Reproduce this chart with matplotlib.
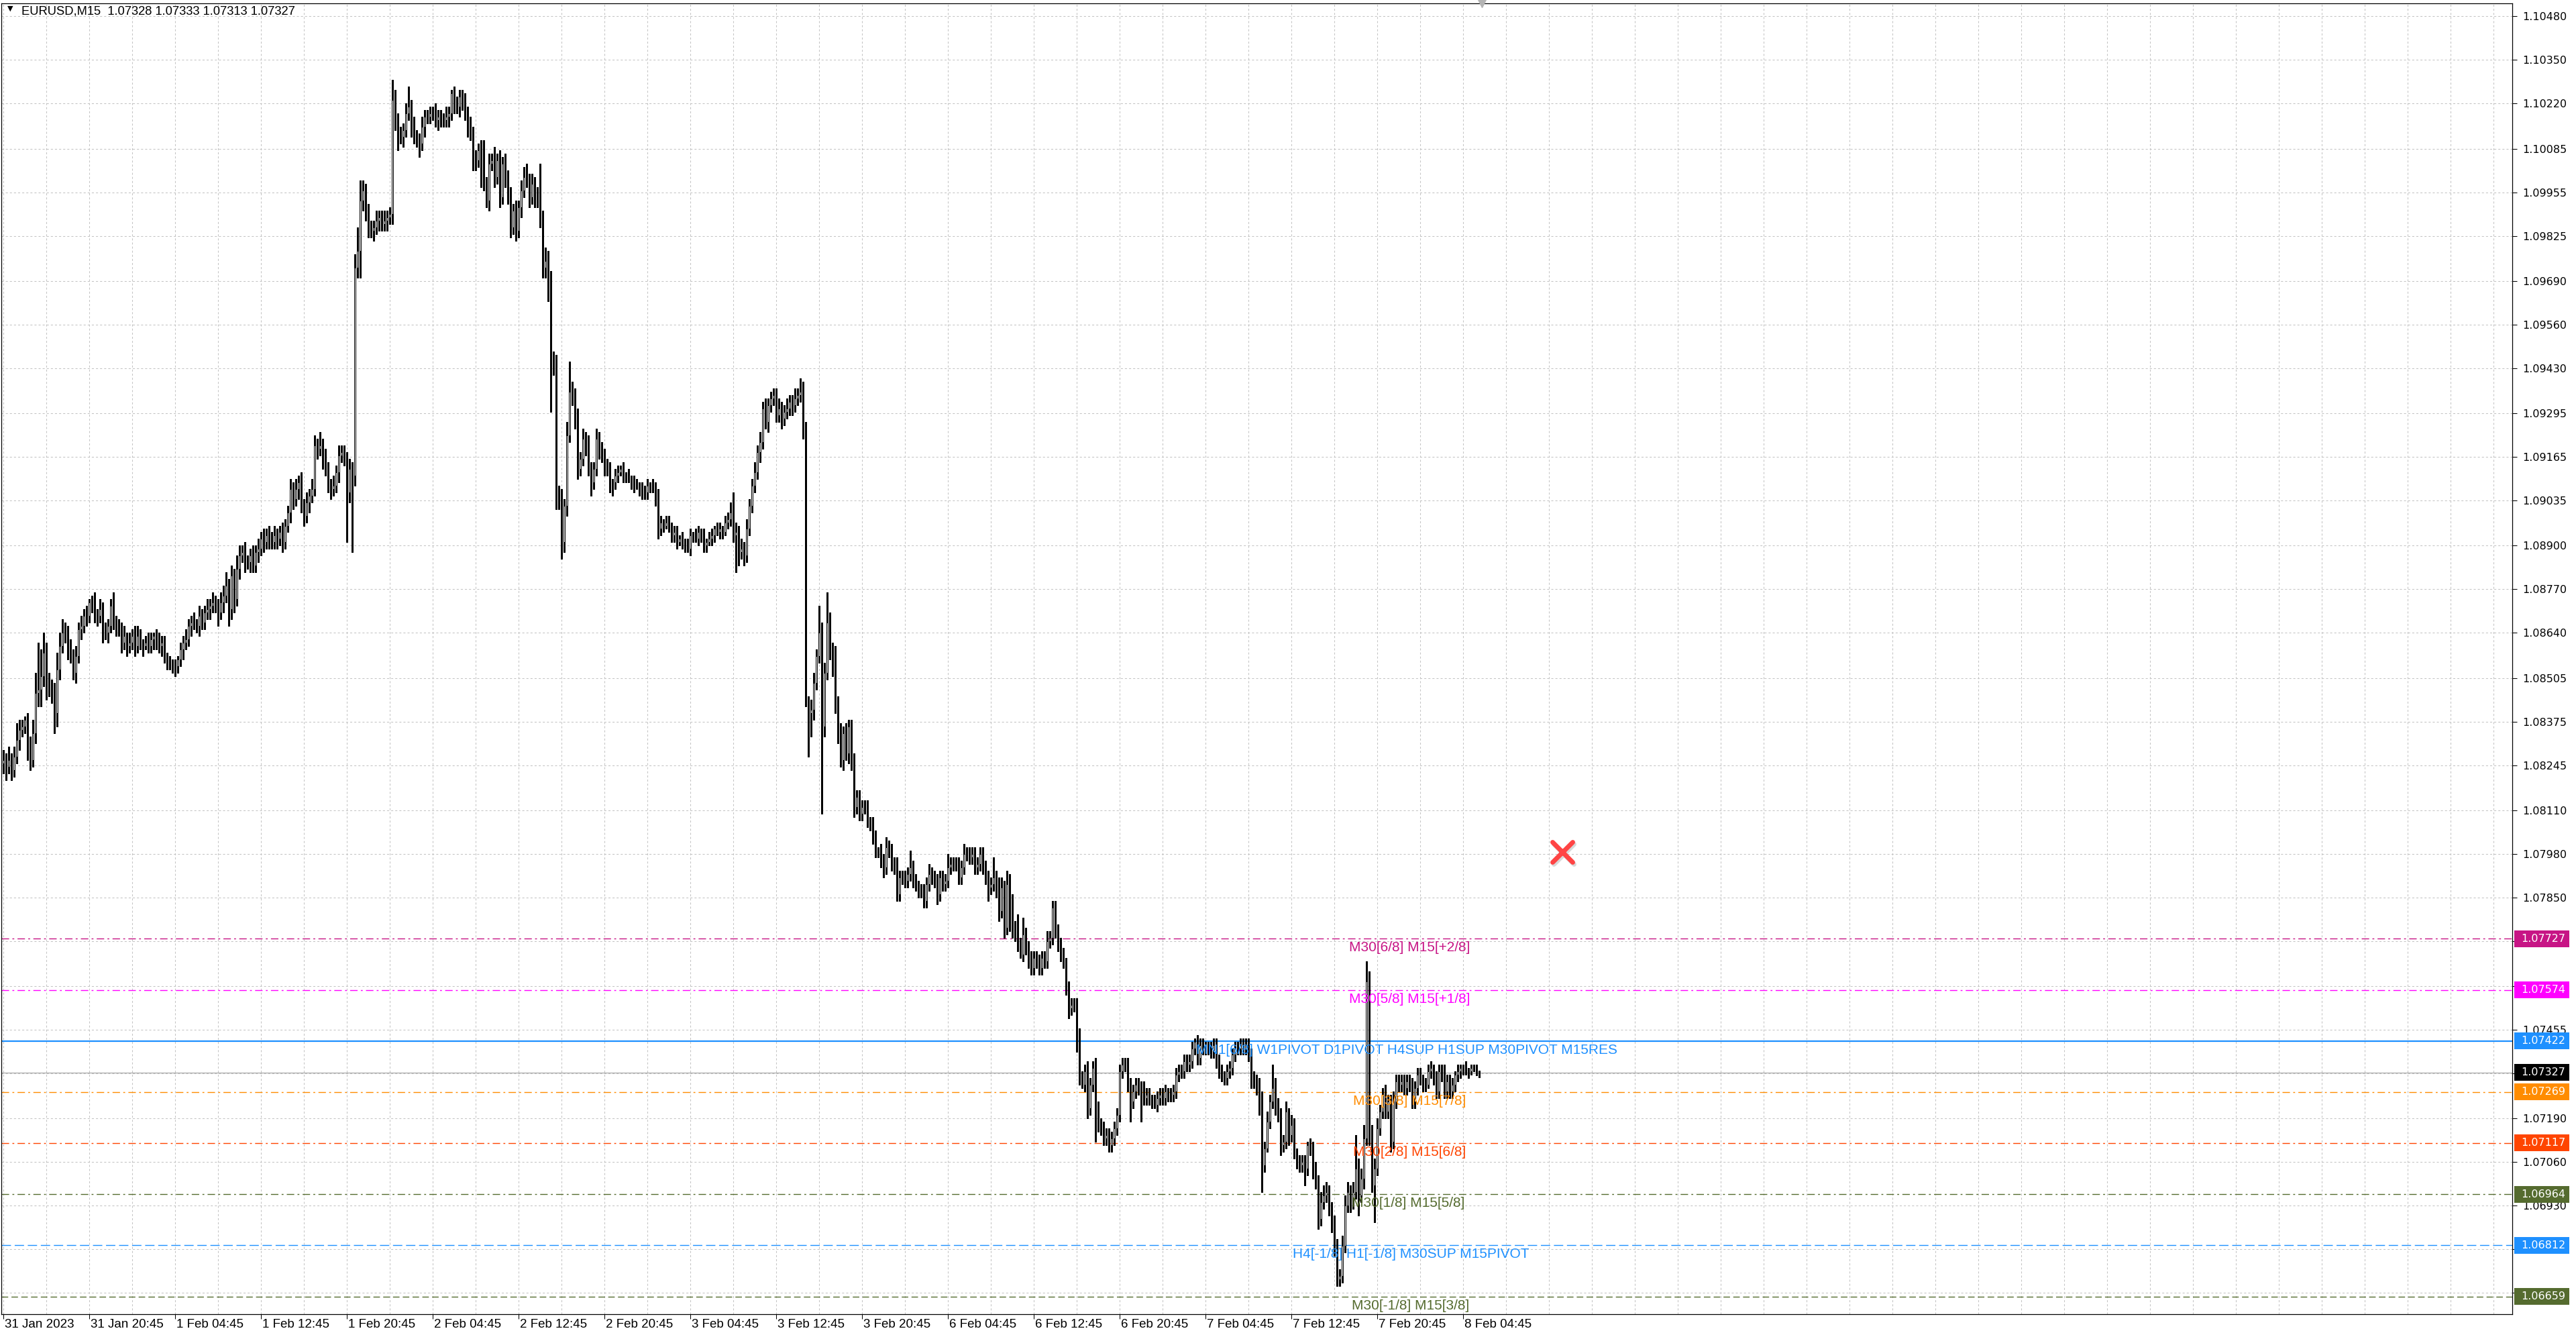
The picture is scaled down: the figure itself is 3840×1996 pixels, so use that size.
import matplotlib
matplotlib.use("Agg")
import matplotlib.pyplot as plt
import matplotlib.transforms as mtransforms
import numpy as np
from matplotlib.markers import MarkerStyle
from matplotlib.patches import Rectangle

plt.rcParams["font.family"] = ["DejaVu Sans"]
plt.rcParams["lines.scale_dashes"] = False

# ---- data (EURUSD M15, prices kept as pips above 1.06000) ----
symbol = "EURUSD,M15"
last_bar = ["1.07328", "1.07333", "1.07313", "1.07327"]
base_price = 1.06
first_open = 225

closes = (
    [226, 224, 226, 223, 227, 232, 235, 236, 238, 230, 226, 234, 246, 247, 251, 258]
    + [248, 248, 246, 240, 253, 260, 264, 264, 259, 257, 252, 257, 265, 266, 269, 269]
    + [273, 273, 269, 269, 271, 264, 264, 266, 272, 267, 266, 265, 261, 263, 260, 261]
    + [263, 260, 263, 261, 260, 261, 260, 262, 263, 261, 260, 261, 257, 255, 255, 254]
    + [254, 256, 259, 261, 262, 266, 267, 267, 266, 269, 267, 270, 271, 272, 273, 272]
    + [270, 273, 275, 278, 271, 281, 274, 283, 287, 288, 285, 285, 287, 284, 288, 289]
    + [292, 291, 293, 292, 291, 293, 292, 294, 291, 296, 300, 307, 304, 307, 309, 302]
    + [299, 303, 305, 307, 320, 319, 320, 316, 313, 308, 307, 308, 312, 317, 318, 316]
    + [306, 313, 311, 373, 378, 393, 396, 389, 385, 384, 385, 387, 388, 386, 387, 388]
    + [389, 423, 417, 412, 412, 414, 419, 421, 415, 412, 411, 410, 415, 418, 418, 419]
    + [419, 417, 418, 417, 417, 418, 419, 425, 421, 421, 424, 422, 419, 415, 413, 405]
    + [405, 408, 404, 398, 393, 404, 405, 400, 405, 394, 404, 400, 394, 385, 390, 384]
    + [391, 396, 400, 399, 394, 398, 394, 393, 387, 373, 375, 370, 345, 345, 305, 304]
    + [291, 302, 323, 336, 335, 328, 313, 316, 322, 320, 313, 309, 313, 322, 319, 317]
    + [313, 313, 309, 309, 311, 312, 313, 311, 311, 310, 309, 308, 308, 307, 306, 306]
    + [308, 308, 307, 304, 295, 297, 296, 297, 296, 293, 294, 291, 292, 291, 290, 289]
    + [293, 293, 292, 294, 293, 290, 291, 292, 293, 295, 294, 295, 294, 297, 298, 300]
    + [293, 294, 288, 289, 287, 295, 302, 308, 312, 318, 321, 331, 327, 332, 334, 335]
    + [329, 331, 328, 330, 331, 333, 332, 334, 335, 336, 325, 243, 240, 241, 249, 257]
    + [264, 236, 252, 267, 259, 257, 243, 234, 226, 234, 228, 236, 225, 212, 215, 210]
    + [212, 212, 208, 207, 203, 199, 199, 196, 194, 200, 199, 195, 194, 186, 191, 191]
    + [190, 192, 194, 190, 189, 187, 187, 184, 189, 192, 191, 190, 186, 191, 189, 190]
    + [194, 195, 195, 195, 191, 194, 198, 198, 197, 198, 194, 195, 198, 194, 191, 188]
    + [189, 191, 188, 181, 188, 176, 189, 178, 175, 174, 171, 168, 174, 170, 167, 164]
    + [167, 166, 164, 167, 166, 172, 173, 182, 175, 171, 168, 166, 158, 152, 153, 153]
    + [144, 131, 129, 133, 122, 129, 134, 122, 117, 116, 113, 114, 111, 113, 116, 120]
    + [133, 135, 135, 129, 124, 127, 129, 128, 128, 125, 126, 125, 124, 123, 125, 126]
    + [125, 127, 126, 126, 127, 132, 133, 133, 136, 135, 136, 140, 142, 137, 141, 140]
    + [140, 140, 139, 141, 136, 133, 132, 131, 133, 134, 138, 140, 140, 141, 140, 141]
    + [138, 131, 130, 129, 124, 105, 110, 118, 124, 128, 123, 120, 111, 112, 121, 114]
    + [117, 108, 106, 105, 106, 104, 111, 110, 104, 100, 89, 94, 96, 97, 92, 88]
    + [81, 71, 72, 81, 93, 97, 94, 97, 104, 96, 101, 113, 160, 113, 99, 104]
    + [116, 121, 126, 121, 124, 112, 124, 130, 129, 130, 128, 130, 129, 124, 128, 132]
    + [131, 129, 129, 133, 134, 131, 127, 133, 132, 127, 130, 127, 129, 132, 133, 134]
    + [134, 133, 133, 134, 134, 132.8, 132.7]
)

# upper / lower shadow length (pips beyond the body)
upper_wick = (
    [3, 2, 4, 2, 3, 5, 3, 2, 1, 2, 3, 4, 6, 14, 8, 6]
    + [3, 4, 2, 3, 5, 4, 4, 3, 2, 3, 2, 3, 2, 3, 2, 3]
    + [1, 2, 3, 2, 3, 2, 3, 2, 2, 4, 2, 2, 2, 3, 1, 3]
    + [2, 3, 3, 2, 1, 2, 3, 2, 1, 2, 3, 2, 2, 1, 2, 1]
    + [2, 1, 2, 2, 3, 2, 2, 3, 1, 3, 2, 2, 3, 2, 3, 2]
    + [2, 3, 3, 4, 2, 3, 2, 4, 3, 2, 3, 2, 2, 3, 2, 3]
    + [2, 3, 2, 3, 2, 3, 2, 2, 3, 2, 2, 3, 2, 3, 2, 3]
    + [2, 3, 2, 3, 3, 2, 4, 2, 3, 2, 2, 3, 2, 3, 2, 2]
    + [2, 3, 2, 4, 7, 6, 3, 2, 3, 2, 2, 3, 2, 2, 3, 2]
    + [2, 6, 3, 2, 3, 2, 3, 6, 2, 3, 2, 2, 3, 2, 2, 2]
    + [2, 3, 2, 2, 2, 3, 2, 1, 2, 3, 2, 2, 3, 2, 3, 2]
    + [3, 2, 3, 7, 2, 3, 2, 4, 2, 3, 2, 3, 2, 3, 2, 3]
    + [2, 3, 3, 4, 2, 3, 2, 3, 11, 3, 4, 3, 2, 3, 2, 3]
    + [3, 2, 4, 9, 3, 2, 3, 2, 3, 2, 3, 2, 2, 3, 2, 2]
    + [2, 3, 2, 1, 2, 2, 1, 2, 1, 2, 1, 2, 2, 1, 2, 2]
    + [2, 1, 2, 2, 3, 2, 1, 2, 2, 1, 2, 2, 1, 2, 1, 2]
    + [2, 1, 2, 2, 1, 2, 1, 2, 2, 1, 2, 2, 1, 2, 2, 3]
    + [6, 3, 2, 3, 2, 3, 2, 2, 3, 2, 3, 2, 3, 2, 2, 2]
    + [2, 3, 2, 2, 3, 2, 2, 3, 2, 4, 3, 2, 2, 3, 3, 2]
    + [8, 3, 3, 9, 3, 2, 3, 2, 3, 2, 3, 2, 2, 3, 2, 2]
    + [2, 2, 2, 1, 2, 2, 1, 2, 2, 3, 2, 2, 2, 3, 2, 2]
    + [2, 2, 5, 2, 2, 1, 2, 2, 2, 3, 2, 2, 2, 2, 2, 2]
    + [4, 2, 2, 2, 2, 2, 3, 2, 2, 2, 2, 2, 2, 2, 2, 2]
    + [2, 6, 2, 3, 3, 2, 4, 3, 8, 3, 6, 2, 5, 2, 2, 2]
    + [2, 2, 2, 2, 2, 3, 2, 2, 2, 2, 2, 2, 1, 2, 2, 2]
    + [2, 2, 2, 2, 3, 2, 2, 3, 2, 2, 2, 2, 2, 2, 2, 2]
    + [2, 2, 2, 2, 2, 2, 2, 2, 2, 2, 2, 2, 1, 2, 2, 2]
    + [2, 2, 1, 2, 2, 2, 2, 2, 2, 2, 2, 2, 1, 2, 2, 2]
    + [2, 2, 2, 2, 2, 2, 2, 1, 2, 2, 2, 2, 2, 2, 2, 2]
    + [2, 2, 2, 2, 2, 3, 2, 3, 2, 7, 3, 2, 2, 2, 3, 1]
    + [3, 2, 2, 2, 2, 2, 1, 2, 2, 2, 2, 3, 3, 3, 2, 2]
    + [2, 2, 2, 3, 3, 3, 2, 3, 10, 3, 3, 4, 6, 3, 4, 3]
    + [3, 2, 2, 3, 2, 2, 3, 2, 2, 2, 2, 2, 2, 2, 2, 2]
    + [2, 1, 2, 2, 2, 1, 2, 2, 2, 3, 2, 2, 2, 1, 2, 1]
    + [1, 2, 1, 1, 1, 1, 0.5]
)

lower_wick = (
    [3, 4, 2, 3, 2, 2, 3, 2, 2, 4, 3, 2, 3, 4, 5, 3]
    + [4, 3, 3, 6, 4, 3, 2, 3, 3, 2, 2, 3, 2, 3, 2, 3]
    + [2, 3, 2, 3, 2, 3, 2, 3, 2, 2, 3, 2, 3, 2, 3, 2]
    + [2, 3, 2, 2, 3, 1, 2, 2, 3, 2, 2, 3, 2, 2, 2, 2]
    + [3, 2, 2, 3, 2, 2, 3, 2, 2, 3, 2, 2, 2, 3, 2, 2]
    + [4, 2, 3, 2, 5, 3, 4, 2, 3, 2, 3, 2, 3, 2, 2, 3]
    + [2, 3, 2, 3, 2, 2, 3, 2, 3, 2, 2, 3, 3, 2, 3, 2]
    + [3, 2, 3, 2, 2, 3, 2, 3, 2, 2, 3, 2, 2, 3, 2, 2]
    + [15, 3, 23, 3, 3, 8, 3, 2, 3, 2, 3, 2, 3, 2, 2, 3]
    + [2, 3, 3, 4, 2, 3, 2, 2, 3, 2, 2, 4, 2, 3, 2, 2]
    + [2, 2, 3, 2, 2, 2, 3, 2, 2, 2, 3, 2, 2, 3, 2, 3]
    + [3, 2, 7, 2, 2, 3, 2, 3, 2, 3, 2, 3, 2, 3, 2, 3]
    + [2, 3, 2, 2, 3, 2, 3, 2, 2, 3, 3, 7, 15, 4, 4, 3]
    + [5, 3, 3, 2, 3, 3, 3, 2, 2, 3, 2, 4, 2, 2, 3, 2]
    + [2, 2, 3, 4, 2, 2, 1, 2, 2, 1, 2, 2, 1, 2, 2, 2]
    + [2, 2, 1, 2, 3, 2, 2, 1, 2, 2, 2, 2, 1, 2, 2, 1]
    + [2, 2, 1, 2, 2, 2, 2, 1, 2, 2, 1, 2, 2, 1, 2, 2]
    + [2, 11, 4, 2, 3, 2, 2, 2, 2, 2, 3, 2, 2, 3, 2, 2]
    + [2, 2, 3, 2, 2, 2, 3, 2, 2, 2, 3, 1, 13, 7, 3, 2]
    + [2, 26, 3, 2, 3, 6, 3, 3, 2, 3, 2, 3, 2, 3, 2, 2]
    + [2, 2, 2, 2, 2, 2, 2, 2, 3, 2, 2, 2, 2, 2, 2, 2]
    + [2, 2, 2, 2, 2, 2, 2, 2, 2, 2, 2, 2, 3, 2, 2, 2]
    + [2, 2, 2, 2, 2, 2, 2, 2, 2, 2, 2, 2, 2, 2, 2, 4]
    + [2, 2, 3, 3, 2, 3, 2, 3, 2, 2, 2, 1, 2, 2, 3, 2]
    + [2, 2, 2, 2, 2, 2, 2, 2, 2, 2, 2, 2, 2, 3, 2, 2]
    + [5, 2, 1, 2, 3, 2, 2, 10, 2, 2, 2, 2, 2, 2, 2, 2]
    + [2, 2, 2, 2, 6, 2, 2, 2, 10, 2, 2, 2, 2, 1, 2, 2]
    + [2, 2, 2, 2, 2, 2, 2, 2, 2, 2, 2, 2, 2, 2, 2, 2]
    + [2, 2, 2, 2, 2, 2, 2, 2, 2, 2, 2, 2, 2, 2, 2, 2]
    + [2, 3, 2, 3, 4, 8, 2, 1, 2, 2, 3, 2, 3, 2, 2, 3]
    + [2, 1, 2, 2, 2, 5, 2, 2, 3, 2, 3, 2, 2, 2, 2, 3]
    + [3, 2, 2, 2, 2, 2, 3, 2, 2, 6, 2, 3, 2, 2, 2, 11]
    + [2, 2, 2, 2, 2, 3, 2, 2, 2, 2, 2, 2, 2, 2, 2, 2]
    + [2, 2, 2, 1, 2, 2, 2, 2, 2, 2, 2, 2, 2, 2, 2, 2]
    + [2, 1, 2, 1, 1, 1, 1.4]
)

time_labels = ["31 Jan 2023", "31 Jan 20:45", "1 Feb 04:45", "1 Feb 12:45",
               "1 Feb 20:45", "2 Feb 04:45", "2 Feb 12:45", "2 Feb 20:45",
               "3 Feb 04:45", "3 Feb 12:45", "3 Feb 20:45", "6 Feb 04:45",
               "6 Feb 12:45", "6 Feb 20:45", "7 Feb 04:45", "7 Feb 12:45",
               "7 Feb 20:45", "8 Feb 04:45"]

price_ticks = [1.10480, 1.10350, 1.10220, 1.10085, 1.09955, 1.09825, 1.09690,
               1.09560, 1.09430, 1.09295, 1.09165, 1.09035, 1.08900, 1.08770,
               1.08640, 1.08505, 1.08375, 1.08245, 1.08110, 1.07980, 1.07850,
               1.07720, 1.07585, 1.07455, 1.07325, 1.07190, 1.07060, 1.06930,
               1.06800, 1.06670]

level_prices = [1.07727, 1.07574, 1.07422, 1.07269, 1.07117, 1.06964, 1.06812, 1.06659]
level_names = ["M30[6/8] M15[+2/8]", "M30[5/8] M15[+1/8]",
               "MN1[6/8] W1PIVOT D1PIVOT H4SUP H1SUP M30PIVOT M15RES",
               "M30[3/8] M15[7/8]", "M30[2/8] M15[6/8]", "M30[1/8] M15[5/8]",
               "H4[-1/8] H1[-1/8] M30SUP M15PIVOT", "M30[-1/8] M15[3/8]"]
bid_price = 1.07327

# ---- styles / layout ----
level_colors = ["#C71585", "#FF00FF", "#1E90FF", "#FF8C00", "#FF4500",
                "#556B2F", "#1E90FF", "#556B2F"]
dashdot = (0, (8, 3.5, 2, 3.5))
level_styles = [dashdot, dashdot, "-", dashdot, dashdot, dashdot,
                (0, (10, 4)), (0, (7, 3.5))]
level_widths = [1.0, 1.0, 1.6, 1.0, 1.0, 1.0, 1.0, 1.0]
label_bar = [501.5, 501.5, 444.5, 503, 503, 502.5, 480.5, 502.5]

W, H = 3840, 1996
fig = plt.figure(figsize=(W / 100, H / 100), dpi=100)
ax = fig.add_axes([2 / W, 1 - 1959 / H, (3745 - 2) / W, (1959 - 5) / H])
ax.set_xlim(-0.7, 935)
ax.set_ylim(1.06606, 1.10519)

# grid
grid_kw = dict(color="#C4C4C4", lw=0.75, ls=(0, (2.2, 2.2)), zorder=1)
for gx in range(0, 935, 16):
    ax.axvline(gx, **grid_kw)
for gy in price_ticks:
    ax.axhline(gy, **grid_kw)

# candles
c = np.array(closes, float)
o = np.concatenate([[first_open], c[:-1]])
hi = np.maximum(o, c) + np.array(upper_wick, float)
lo = np.minimum(o, c) - np.array(lower_wick, float)
x = np.arange(len(c))
to_price = lambda v: base_price + np.asarray(v) / 10000.0

ax.vlines(x, to_price(lo), to_price(hi), color="black", lw=0.75, zorder=3,
          antialiased=False)
up = c >= o
ax.bar(x[up], to_price(c[up]) - to_price(o[up]), bottom=to_price(o[up]),
       width=0.6, facecolor="white", edgecolor="black", linewidth=0.72, zorder=4)
ax.bar(x[~up], to_price(o[~up]) - to_price(c[~up]), bottom=to_price(c[~up]),
       width=0.6, facecolor="black", edgecolor="black", linewidth=0.72, zorder=4)

# bid line + levels
ax.axhline(bid_price, color="#A8A8A8", lw=0.9, zorder=2)
for p, name, col, st, lw_, bx in zip(level_prices, level_names, level_colors,
                                     level_styles, level_widths, label_bar):
    ax.axhline(p, color=col, ls=st, lw=lw_, zorder=2)
    ax.annotate(name, xy=(bx, p), xytext=(0, -4), textcoords="offset pixels",
                ha="left", va="top", color=col, fontsize=15,
                family=["Liberation Sans", "DejaVu Sans"], zorder=6)

# right price axis
ax.yaxis.tick_right()
ax.set_yticks(price_ticks)
ax.set_yticklabels([f"{v:.5f}" for v in price_ticks])
ax.tick_params(axis="y", length=5, width=0.75, pad=6, labelsize=11.5, colors="black")
ax.tick_params(axis="x", length=5, width=0.75, labelbottom=False)
ax.set_xticks(range(0, 32 * len(time_labels), 32))

for sp in ax.spines.values():
    sp.set_linewidth(0.9)
    sp.set_color("black")

blend = mtransforms.blended_transform_factory(ax.transAxes, ax.transData)
box_h = 25 / 49940
for p, col in list(zip(level_prices, level_colors)) + [(bid_price, "black")]:
    ax.add_patch(Rectangle((1.0008, p - box_h / 2), 0.0218, box_h, transform=blend,
                           facecolor=col, edgecolor="none", clip_on=False, zorder=10))
    ax.text(1.0035, p, f"{p:.5f}", transform=blend, ha="left", va="center",
            color="white", fontsize=11.5, zorder=11, clip_on=False)

# time axis labels
for k, lab in enumerate(time_labels):
    ax.annotate(lab, xy=(32 * k, 0), xycoords=("data", "axes fraction"),
                xytext=(2, -7), textcoords="offset pixels", ha="left", va="top",
                fontsize=13.5, family=["Liberation Sans", "DejaVu Sans"],
                annotation_clip=False)

# header
ax.text(0.0025, 0.9985, "\u25bc", transform=ax.transAxes, ha="left", va="top",
        fontsize=8)
ax.annotate(symbol + "  " + " ".join(last_bar), xy=(0, 1), xycoords="axes fraction",
            xytext=(30, -4), textcoords="offset pixels", ha="left", va="top",
            fontsize=13.2, family=["Liberation Sans", "DejaVu Sans"])

# chart-shift marker and the red cross object
ax.plot([len(c)], [1.10519], marker="v", ms=9, color="#B4B4B4", clip_on=False, zorder=7)
shadow = mtransforms.offset_copy(ax.transData, fig=fig, x=2, y=-3, units="dots")
xm = MarkerStyle("x", capstyle="round")
ax.plot([581], [1.07986], marker=xm, ms=22, mew=5, color="#D8D8D8",
        transform=shadow, zorder=7)
ax.plot([581], [1.07986], marker=xm, ms=22, mew=5, color="#FF4444", zorder=8)

fig.savefig("out.png", dpi=100, facecolor="white")
